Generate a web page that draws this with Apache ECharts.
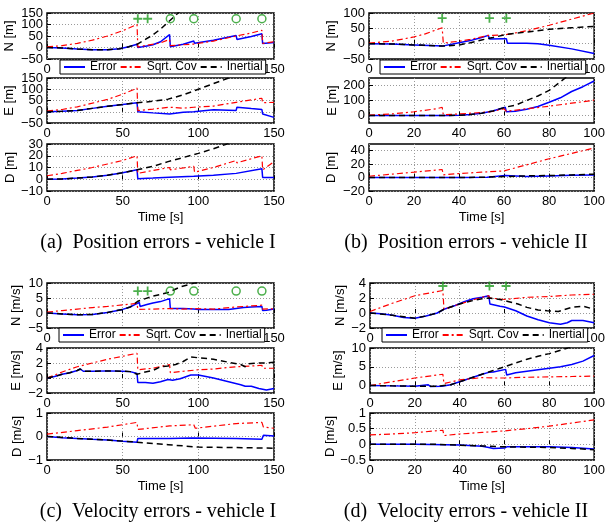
<!DOCTYPE html>
<html>
<head>
<meta charset="utf-8">
<script src="https://cdn.jsdelivr.net/npm/echarts@6/dist/echarts.min.js"></script>
<style>
html, body { margin: 0; padding: 0; background: #fff; }
#main { width: 608px; height: 523px; }
</style>
</head>
<body>
<div id="main"></div>
<script>
// ---- tick labels ----
var xTicks150 = [0, 50, 100, 150];
var xTicks100 = [0, 20, 40, 60, 80, 100];

// ---- (a) position errors, vehicle I  [time, value] ----
var aN_err = [[0,0],[10,-2],[20,-7],[30,-10],[40,-10],[48,-5],[54,3],[59.5,14],[60,0],[63,3],[66,7],[66.5,5],[70,12],[75,25],[81,56],[81.5,3],[90,14],[97,28],[97.5,18],[110,32],[125,52],[125.5,35],[135,48],[142,60],[142.5,17],[150,22]];
var aN_cov = [[0,3],[10,8],[20,18],[30,32],[40,50],[50,73],[59.5,100],[60,2],[66,10],[66.5,5],[75,20],[81,35],[81.5,8],[90,12],[97,15],[97.5,10],[110,28],[125,50],[135,63],[142,75],[142.5,18],[150,25]];
var aN_ins = [[0,0],[10,-2],[20,-7],[30,-10],[40,-10],[48,-5],[54,3],[59.5,14],[65,35],[70,55],[75,80],[80,110],[85,140],[90,172]];
var aE_err = [[0,0],[10,2],[20,6],[30,15],[40,24],[50,32],[59.5,40],[60,0],[70,-5],[81,-10],[81.5,-3],[90,-2],[97,0],[97.5,8],[110,9],[125,6],[125.5,20],[135,14],[142,10],[142.5,-10],[150,-25]];
var aE_cov = [[0,3],[10,10],[20,22],[30,38],[40,55],[50,78],[59.5,105],[60,5],[70,12],[81,20],[81.5,12],[90,16],[97,20],[97.5,12],[110,25],[125,42],[142,60],[142.5,40],[150,42]];
var aE_ins = [[0,0],[10,2],[20,6],[30,15],[40,24],[50,32],[59.5,40],[65,43],[70,47],[80,56],[90,75],[100,100],[110,125],[120,150],[125,163]];
var aD_err = [[0,0],[10,0.3],[20,1],[30,2],[40,3.5],[50,5.5],[59.5,8],[60,0.5],[70,1],[81,1.8],[81.5,1.5],[97,2.5],[97.5,2.8],[110,3.5],[125,5],[125.5,6.5],[142,9],[142.5,1.5],[150,1.5]];
var aD_cov = [[0,3],[10,5],[20,7.5],[30,10],[40,13],[50,16],[59.5,20],[60,5],[70,7.5],[81,10],[81.5,8],[97,11],[97.5,6],[110,10],[125,16],[125.5,14],[142,20],[142.5,8],[150,15]];
var aD_ins = [[0,0],[10,0.3],[20,1],[30,2],[40,3.5],[50,5.5],[59.5,8],[70,11],[80,15],[90,18.5],[100,22],[110,26],[120,30.5]];
var aMarkPlus = [[60,125],[66.5,125]];
var aMarkO = [[81.5,125],[97,125],[125,125],[142,125]];

// ---- (b) position errors, vehicle II ----
var bN_err = [[0,0],[10,-1],[20,-4],[30,-7],[32.5,-8],[33,-3],[40,3],[45,10],[50,20],[53,27],[53.5,15],[60,16],[61,16],[61.5,1],[70,1],[75,0],[80,-5],[90,-17],[100,-32]];
var bN_cov = [[0,2],[10,8],[20,22],[25,32],[32.5,52],[33,2],[40,8],[45,14],[50,22],[53,27],[53.5,22],[60,28],[70,42],[80,60],[90,80],[100,100]];
var bN_ins = [[0,0],[10,-1],[20,-4],[30,-7],[32.5,-8],[40,-4],[45,3],[50,12],[55,20],[61,30],[70,38],[80,47],[90,52],[100,56]];
var bE_err = [[0,0],[20,0],[35,0],[40,2],[45,6],[50,15],[55,30],[60.5,55],[61,25],[65,29],[70,42],[75,60],[80,88],[85,118],[90,160],[95,192],[100,230]];
var bE_cov = [[0,2],[10,10],[20,25],[30,45],[32.5,55],[33,5],[40,10],[50,20],[55,28],[60,45],[61,28],[70,45],[80,62],[90,82],[100,102]];
var bE_ins = [[0,0],[35,0],[40,2],[45,6],[50,15],[55,30],[61,57],[65,68],[70,100],[75,130],[80,167],[85,225],[88,260]];
var bD_err = [[0,0],[20,0],[40,0],[52.5,0.5],[53,3],[60.5,3],[61,1],[70,1.5],[80,2.5],[90,3.5],[100,4]];
var bD_cov = [[0,2],[10,5],[20,8],[32.5,12],[33,4],[40,6],[50,8],[60,10],[70,19],[80,28],[90,36],[100,44]];
var bD_ins = [[0,0],[40,0],[50,0.5],[60,1.5],[70,2.5],[80,3],[90,4],[100,5]];
var bMarkPlus = [[32.5,83],[53.5,83],[61,83]];

// ---- (c) velocity errors, vehicle I ----
var cN_err = [[0,0],[10,-0.3],[20,-0.6],[30,-0.5],[40,0.2],[50,1.2],[55,2],[58,2.8],[61,3.5],[61.5,2.2],[66,2.8],[70,3.3],[75,3.8],[81,4.8],[81.5,1.5],[90,1.5],[97,1.3],[100,1.2],[110,1.2],[120,1.2],[125,1.5],[130,1.8],[135,2],[142,2.2],[142.5,0.8],[145,0.9],[150,1.3]];
var cN_cov = [[0,0.3],[10,0.8],[20,1.3],[30,1.8],[40,2.2],[50,2.7],[59.5,3.2],[60,1.2],[70,1.3],[81,1.5],[81.5,1.2],[90,1.3],[97,1.5],[97.5,1],[110,1.3],[125,2],[142,2.6],[142.5,1.3],[150,1.4]];
var cN_ins = [[0,0],[10,-0.3],[20,-0.6],[30,-0.5],[40,0.2],[50,1.2],[55,2],[60,3.9],[65,4.8],[70,5.6],[75,6.2],[80,6.8],[88,8.7],[96,9.8],[100,10.2]];
var cE_err = [[0,0],[5,0.2],[10,0.5],[15,0.7],[20,1],[22,1.2],[24,0.9],[30,0.9],[40,0.95],[50,0.9],[55,0.85],[59.5,0.6],[60,-0.6],[65,-0.6],[70,-0.7],[75,-0.5],[80,-0.2],[83,-0.3],[88,-0.1],[95,0.4],[100,0.4],[105,0.2],[110,0],[120,-0.5],[128,-0.9],[131,-1.1],[135,-1.1],[140,-1.4],[145,-1.6],[150,-1.4]];
var cE_cov = [[0,0],[10,0.8],[20,1.5],[30,2],[40,2.5],[50,2.9],[59.5,3.3],[60,1.1],[70,1.3],[81,1.8],[81.5,0.7],[90,0.9],[100,1.1],[110,1.2],[125,1.5],[135,1.6],[142,1.7],[142.5,1.3],[150,1.3]];
var cE_ins = [[0,0],[5,0.2],[10,0.5],[15,0.7],[20,1],[22,1.2],[24,0.9],[30,0.9],[40,0.95],[50,0.9],[55,0.85],[59.5,0.5],[65,0.8],[70,1],[75,1.5],[80,1.6],[85,1.8],[90,2.2],[95,2.8],[100,2.7],[110,2.5],[120,2.1],[128,1.8],[131,1.5],[133,1.9],[140,2],[145,2],[150,2.1]];
var cD_err = [[0,0],[10,-0.05],[20,-0.08],[30,-0.12],[40,-0.15],[50,-0.2],[59.5,-0.24],[60,-0.08],[81,-0.08],[82,-0.04],[96,-0.06],[97,-0.1],[125,-0.08],[126,-0.12],[142,-0.12],[143,0.05],[150,0.02]];
var cD_cov = [[0,0.1],[20,0.25],[40,0.4],[59.5,0.6],[60,0.3],[81,0.45],[82,0.4],[97,0.5],[98,0.35],[125,0.55],[142,0.6],[143,0.4],[150,0.35]];
var cD_ins = [[0,0],[20,-0.08],[40,-0.15],[59.5,-0.24],[70,-0.3],[80,-0.35],[90,-0.4],[100,-0.45],[125,-0.47],[150,-0.5]];
var cMarkPlus = [[60,7.3],[66.5,7.3]];
var cMarkO = [[81.5,7.3],[97,7.3],[125,7.3],[142,7.3]];

// ---- (d) velocity errors, vehicle II ----
var dN_err = [[0,0],[5,-0.1],[10,-0.3],[15,-0.6],[20,-0.7],[25,-0.4],[30,0],[33,0.5],[38,1],[42,1.5],[46,1.9],[50,2.1],[53,2.3],[53.5,1.2],[58,0.9],[60,0.8],[65,0.3],[70,-0.4],[75,-0.9],[80,-1.3],[85,-1.5],[88,-1.3],[90,-1],[95,-1],[100,-1.3]];
var dN_cov = [[0,0.2],[10,1.3],[20,2.3],[32.5,3],[33,0.5],[40,1.2],[50,2.1],[53,2.3],[53.5,2],[60,1.8],[70,2.1],[80,2.2],[90,2.4],[100,2.5]];
var dN_ins = [[0,0],[10,-0.3],[20,-0.7],[25,-0.4],[30,0],[33,0.5],[40,1.2],[45,1.6],[50,1.9],[53,2],[58,1.8],[62,1.5],[66,1.2],[70,0.75],[75,0.4],[79,0.3],[84,0.2],[90,0.75],[95,0.9],[100,0.5]];
var dE_err = [[0,0],[10,-0.1],[20,-0.2],[26,0.2],[27,-0.3],[32,-0.2],[36,0.2],[40,1],[45,2],[50,3],[53,3.5],[55,3.6],[60.5,4.3],[61,2.8],[65,3.4],[70,3.8],[75,4.2],[80,4.6],[85,5],[90,5.6],[95,6.5],[100,8]];
var dE_cov = [[0,0],[10,1],[20,2],[32.5,3],[33,0.5],[40,1.5],[50,2.1],[55,2],[60,2],[70,2.2],[80,2.3],[90,2.4],[100,2.5]];
var dE_ins = [[0,0],[10,-0.1],[20,-0.2],[30,-0.2],[36,0.2],[40,1],[45,2],[50,3],[55,4],[60,5],[65,6],[70,7],[75,7.8],[80,8.5],[85,9.4],[90,10.3]];
var dD_err = [[0,0],[20,0],[40,-0.02],[50,-0.06],[53,-0.1],[55,-0.13],[60,-0.12],[61,-0.08],[70,-0.08],[80,-0.08],[90,-0.1],[100,-0.15]];
var dD_cov = [[0,0.3],[10,0.33],[20,0.37],[32.5,0.45],[33,0.28],[40,0.33],[50,0.38],[60,0.43],[70,0.5],[80,0.58],[90,0.68],[100,0.78]];
var dD_ins = [[0,0],[30,0],[40,-0.03],[50,-0.05],[60,-0.08],[70,-0.09],[80,-0.1],[90,-0.13],[100,-0.17]];
var dMarkPlus = [[32.5,3.6],[53.3,3.6],[60.7,3.6]];

var legendNames = ['Error', 'Sqrt. Cov', 'Inertial'];
var captions = ['(a)  Position errors - vehicle I', '(b)  Position errors - vehicle II',
                '(c)  Velocity errors - vehicle I', '(d)  Velocity errors - vehicle II'];

// subplot layout: box = [left, top, width, height]
var plots = [
  {box:[47,13,227,46],  xmax:150, xt:xTicks150, y:[-50,150], yt:[-50,0,50,100,150], name:'N [m]', gap:31, d:[aN_err,aN_cov,aN_ins]},
  {box:[47,78,227,45],  xmax:150, xt:xTicks150, y:[-50,150], yt:[-50,0,50,100,150], name:'E [m]', gap:31, d:[aE_err,aE_cov,aE_ins]},
  {box:[47,144,227,47], xmax:150, xt:xTicks150, y:[-10,30],  yt:[-10,0,10,20,30],    name:'D [m]', gap:30, d:[aD_err,aD_cov,aD_ins], time:true},
  {box:[369,13,226,46], xmax:100, xt:xTicks100, y:[-50,100], yt:[-50,0,50,100],      name:'N [m]', gap:31, d:[bN_err,bN_cov,bN_ins]},
  {box:[369,78,226,45], xmax:100, xt:xTicks100, y:[-50,250], yt:[0,100,200],         name:'E [m]', gap:25, d:[bE_err,bE_cov,bE_ins]},
  {box:[369,144,226,47],xmax:100, xt:xTicks100, y:[-20,50],  yt:[-20,0,20,40],       name:'D [m]', gap:31, d:[bD_err,bD_cov,bD_ins], time:true},
  {box:[47,283,227,45], xmax:150, xt:xTicks150, y:[-5,10],   yt:[-5,0,5,10],         name:'N [m/s]', gap:24, d:[cN_err,cN_cov,cN_ins]},
  {box:[47,348,227,45], xmax:150, xt:xTicks150, y:[-2,4],    yt:[-2,0,2,4],          name:'E [m/s]', gap:24, d:[cE_err,cE_cov,cE_ins]},
  {box:[47,413,227,47], xmax:150, xt:xTicks150, y:[-1,1],    yt:[-1,0,1],            name:'D [m/s]', gap:23, d:[cD_err,cD_cov,cD_ins], time:true},
  {box:[370,283,225,45],xmax:100, xt:xTicks100, y:[-2,4],    yt:[-2,0,2,4],          name:'N [m/s]', gap:18, d:[dN_err,dN_cov,dN_ins]},
  {box:[370,348,225,45],xmax:100, xt:xTicks100, y:[-2,10],   yt:[0,5,10],            name:'E [m/s]', gap:25, d:[dE_err,dE_cov,dE_ins]},
  {box:[370,413,225,47],xmax:100, xt:xTicks100, y:[-0.5,1],  yt:[-0.5,0,0.5,1],      name:'D [m/s]', gap:33, d:[dD_err,dD_cov,dD_ins], time:true}
];

var lineStyles = [
  {color:'#0000ff', width:1.5, type:'solid'},
  {color:'#ff0000', width:1.2, type:[6,3,2,3]},
  {color:'#000000', width:1.5, type:[6,4]}
];
var green = '#1f9b1f';

var grids = [], xAxes = [], yAxes = [], series = [];

function minusSign(v) {
  return v < 0 ? '\u2212' + (-v) : String(v);
}

var labelStyle = {interval: 0, fontSize: 13, color: '#000', margin: 4,
  showMinLabel: true, showMaxLabel: true, hideOverlap: false};

plots.forEach(function (p, i) {
  grids.push({
    left: p.box[0], top: p.box[1], width: p.box[2], height: p.box[3],
    show: true, borderColor: '#000', borderWidth: 1.5, backgroundColor: '#fff'
  });
  xAxes.push({
    type: 'value', gridIndex: i, min: 0, max: p.xmax,
    axisLine: {show: false},
    axisTick: {inside: true, length: 4, customValues: p.xt, lineStyle: {color: '#000'}},
    axisLabel: Object.assign({customValues: p.xt}, labelStyle),
    splitLine: {show: true, lineStyle: {color: '#9a9a9a', type: [1, 2]}},
    name: p.time ? 'Time [s]' : '', nameLocation: 'middle', nameGap: 20,
    nameTextStyle: {fontSize: 13, color: '#000'}
  });
  // ticks are tight, so the y labels are split over two axes (even / odd)
  // to stop echarts from dropping every other one
  var evenT = p.yt.filter(function (v, j) { return j % 2 === 0; });
  var oddT = p.yt.filter(function (v, j) { return j % 2 === 1; });
  yAxes.push({
    type: 'value', gridIndex: i, min: p.y[0], max: p.y[1],
    axisLine: {show: false},
    axisTick: {inside: true, length: 4, customValues: p.yt, lineStyle: {color: '#000'}},
    axisLabel: Object.assign({customValues: evenT, formatter: minusSign}, labelStyle),
    splitLine: {show: true, lineStyle: {color: '#9a9a9a', type: [1, 2]}},
    name: p.name, nameLocation: 'middle', nameGap: p.gap, nameRotate: 90,
    nameTextStyle: {fontSize: 13, color: '#000'}
  });
  yAxes.push({
    type: 'value', gridIndex: i, min: p.y[0], max: p.y[1], position: 'left', offset: 0,
    axisLine: {show: false}, axisTick: {show: false}, splitLine: {show: false},
    axisLabel: Object.assign({customValues: oddT, formatter: minusSign}, labelStyle)
  });
  for (var k = 0; k < 3; k++) {
    series.push({
      name: legendNames[k], type: 'line', xAxisIndex: i, yAxisIndex: 2 * i,
      data: p.d[k], symbol: 'none', animation: false, clip: true,
      lineStyle: lineStyles[k], itemStyle: {color: lineStyles[k].color}
    });
  }
});

// green fix markers on the N plots
function plusMarks(data, idx) {
  return {type: 'scatter', xAxisIndex: idx, yAxisIndex: 2 * idx, data: data, animation: false,
    symbol: 'path://M4,0H6V4H10V6H6V10H4V6H0V4H4Z', symbolSize: 9, itemStyle: {color: green}, z: 5};
}
function circleMarks(data, idx) {
  return {type: 'scatter', xAxisIndex: idx, yAxisIndex: 2 * idx, data: data, animation: false,
    symbol: 'circle', symbolSize: 8, itemStyle: {color: 'transparent', borderColor: green, borderWidth: 1.5}, z: 5};
}
series.push(plusMarks(aMarkPlus, 0), circleMarks(aMarkO, 0));
series.push(plusMarks(bMarkPlus, 3));
series.push(plusMarks(cMarkPlus, 6), circleMarks(cMarkO, 6));
series.push(plusMarks(dMarkPlus, 9));

// one boxed legend under each N plot
var legendPos = [[60,60],[380,60],[59,328],[382,328]];
var legends = legendPos.map(function (pos) {
  return {
    data: legendNames, left: pos[0], top: pos[1], orient: 'horizontal',
    itemWidth: 21, itemHeight: 10, itemGap: 3, padding: [1, 3],
    backgroundColor: '#fff', borderColor: '#000', borderWidth: 1,
    itemStyle: {color: 'transparent', borderWidth: 0, opacity: 0},
    selectedMode: false, textStyle: {fontSize: 12, color: '#000'}
  };
});

var capPos = [[158,243],[466,243],[158,512],[466,512]];
var graphics = captions.map(function (t, i) {
  return {type: 'text', x: capPos[i][0], y: capPos[i][1],
    style: {text: t, align: 'center', verticalAlign: 'middle', fill: '#000',
      font: '20px "Liberation Serif", "Times New Roman", serif'}};
});

var myChart = echarts.init(document.getElementById('main'));
myChart.setOption({
  animation: false,
  textStyle: {fontFamily: '"Liberation Sans", Arial, Helvetica, sans-serif'},
  grid: grids,
  xAxis: xAxes,
  yAxis: yAxes,
  legend: legends,
  series: series,
  graphic: graphics
});
</script>
</body>
</html>
